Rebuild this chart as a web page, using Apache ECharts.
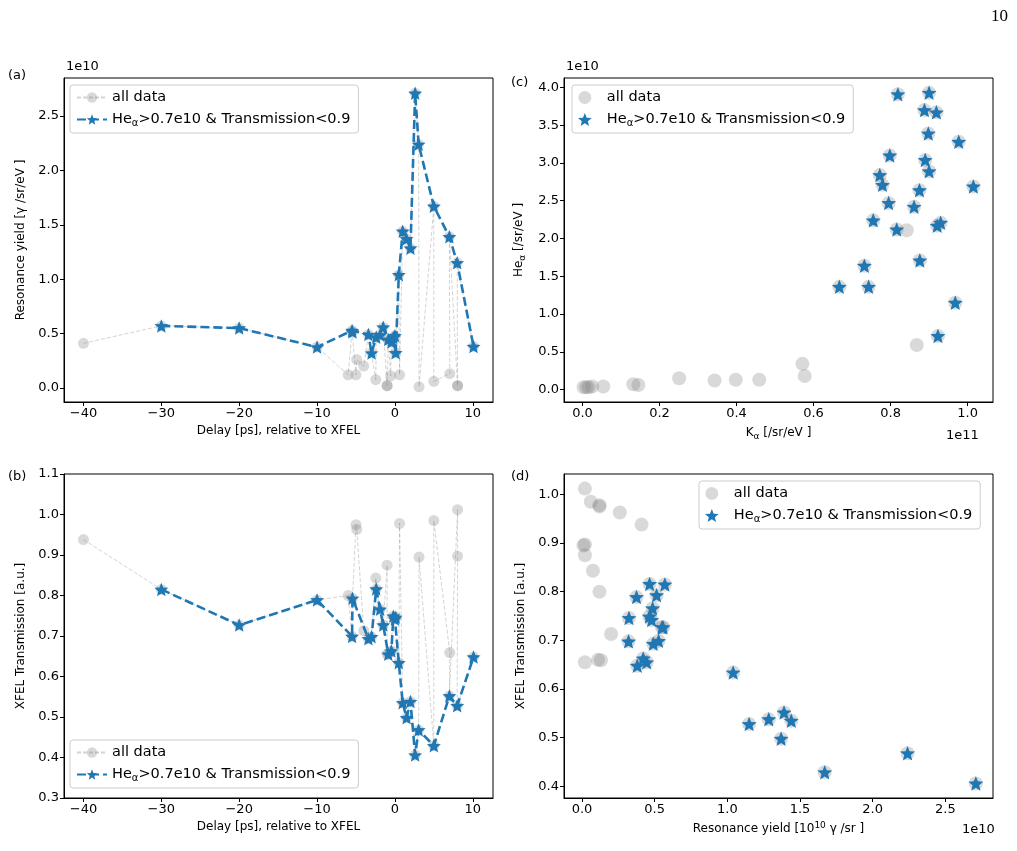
<!DOCTYPE html>
<html><head><meta charset="utf-8">
<script src="https://cdn.jsdelivr.net/npm/echarts@6/dist/echarts.min.js"></script>
<style>html,body{margin:0;padding:0;background:#fff}#c{width:1017px;height:851px}</style>
</head><body><div id="c"></div>
<script>
// ---- data: one entry per shot, in acquisition (delay) order ----
const delay = [-40,-30,-20,-10,-6.0,-5.5,-5.45,-5.0,-4.9,-4.0,-3.4,-3.0,-2.45,-2.4,-1.9,-1.5,-1.0,-1.0,-0.85,-0.55,-0.45,-0.2,0.0,0.1,0.5,0.6,1.0,1.5,2.0,2.6,3.05,3.1,5.0,5.0,7.05,7.0,8.05,8.05,8.0,10.1];
const resYield = [0.41,0.57,0.55,0.375,0.12,0.527,0.513,0.12,0.26,0.20,0.49,0.32,0.075,0.465,0.486,0.558,0.02,0.02,0.445,0.11,0.421,0.463,0.479,0.323,1.04,0.12,1.44,1.37,1.285,2.71,2.24,0.01,1.67,0.06,0.13,1.39,0.02,0.02,1.15,0.38];
const transmission = [0.938,0.815,0.727,0.789,0.80,0.699,0.793,0.975,0.963,0.713,0.693,0.698,0.843,0.816,0.766,0.727,0.875,0.655,0.655,0.66,0.663,0.749,0.742,0.746,0.634,0.978,0.535,0.498,0.538,0.406,0.468,0.895,0.429,0.985,0.659,0.552,1.012,0.897,0.528,0.648];
const selected = [0,1,1,1,0,1,1,0,0,0,1,1,0,1,1,1,0,0,1,0,1,1,1,1,1,0,1,1,1,1,1,0,1,0,0,1,0,0,1,1];
// panel (c): K_alpha (1e11) vs He_alpha (1e10)
const kaSel = [0.819,0.900,0.888,0.919,0.898,0.977,0.798,0.890,0.900,0.772,0.779,0.875,1.015,0.795,0.861,0.755,0.816,0.921,0.930,0.732,0.876,0.667,0.743,0.968,0.923];
const heSel = [3.91,3.93,3.70,3.67,3.39,3.28,3.10,3.04,2.89,2.84,2.71,2.64,2.69,2.47,2.42,2.24,2.12,2.17,2.21,1.64,1.71,1.36,1.36,1.15,0.71];
const kaOther = [0.842,0.868,0.003,0.010,0.016,0.025,0.054,0.132,0.145,0.251,0.343,0.398,0.459,0.571,0.577];
const heOther = [2.11,0.59,0.03,0.03,0.03,0.04,0.04,0.07,0.06,0.15,0.12,0.13,0.13,0.34,0.18];
// tick labels
const delayTicks = [-40,-30,-20,-10,0,10];
const yieldTicksA = [0,0.5,1,1.5,2,2.5];
const transTicksB = [0.3,0.4,0.5,0.6,0.7,0.8,0.9,1.0,1.1];
const kaTicks = [0,0.2,0.4,0.6,0.8,1.0];
const heTicks = [0,0.5,1,1.5,2,2.5,3,3.5,4];
const yieldTicksD = [0,0.5,1,1.5,2,2.5];
const transTicksD = [0.4,0.5,0.6,0.7,0.8,0.9,1.0];

// ---- styling ----
const FONT = 'DejaVu Sans';
const BLUE = '#1f77b4';
const GRAY = 'rgba(128,128,128,0.3)';
function starPath(){
  let p = '';
  for (let i=0;i<10;i++){
    const a = -Math.PI/2 + i*Math.PI/5;
    const r = i%2===0 ? 100 : 44;
    p += (i===0?'M':'L') + (r*Math.cos(a)).toFixed(2) + ' ' + (r*Math.sin(a)).toFixed(2) + ' ';
  }
  return 'path://' + p + 'Z';
}
const STAR = starPath();
const minus = v => (v<0?'\u2212':'') + Math.abs(v);
const f1 = v => (v<0?'\u2212':'') + Math.abs(v).toFixed(1);
function subRich(sz){
  return {
    s:{fontSize:Math.round(sz*0.7), fontFamily:FONT, color:'#000', verticalAlign:'bottom', padding:[7,0,0,0]},
    u:{fontSize:Math.round(sz*0.7), fontFamily:FONT, color:'#000', verticalAlign:'top', padding:[0,0,7,0]}
  };
}
function axis(gi, min, max, ticks, fmt, name, gap){
  return {
    type:'value', gridIndex:gi, min, max, name, nameLocation:'middle', nameGap:gap,
    nameTextStyle:{fontSize:12, fontFamily:FONT, color:'#000', rich:subRich(12.5)},
    axisLine:{show:true, onZero:false, lineStyle:{color:'#000', width:1}},
    axisTick:{show:true, length:4, customValues:ticks, lineStyle:{color:'#000'}},
    axisLabel:{show:true, customValues:ticks, formatter:fmt, color:'#000', fontSize:13, fontFamily:FONT, margin:5},
    splitLine:{show:false}
  };
}
const grids = [
  {left:64, top:78, width:429, height:324},
  {left:64, top:474, width:429, height:324},
  {left:564, top:78, width:429, height:324},
  {left:564, top:474, width:429, height:324}
].map(g => Object.assign(g, {show:true, borderColor:'#000', borderWidth:1, backgroundColor:'transparent'}));

const xAxis = [
  axis(0, -42.5, 12.6, delayTicks, minus, 'Delay [ps], relative to XFEL', 23),
  axis(1, -42.5, 12.6, delayTicks, minus, 'Delay [ps], relative to XFEL', 23),
  axis(2, -0.048, 1.066, kaTicks, f1, 'K{s|α} [/sr/eV ]', 23),
  axis(3, -0.124, 2.828, yieldTicksD, f1, 'Resonance yield [10{u|10} \u03b3 /sr ]', 23)
];
const yAxis = [
  axis(0, -0.13, 2.85, yieldTicksA, f1, 'Resonance yield [\u03b3 /sr/eV ]', 37),
  axis(1, 0.3, 1.1, transTicksB, f1, 'XFEL Transmission [a.u.]', 37),
  axis(2, -0.165, 4.125, heTicks, f1, 'He{s|α} [/sr/eV ]', 37),
  axis(3, 0.376, 1.042, transTicksD, f1, 'XFEL Transmission [a.u.]', 37)
];

const allAB = (yArr) => delay.map((d,i)=>[d, yArr[i]]);
const selAB = (yArr) => delay.map((d,i)=>[d, yArr[i]]).filter((_,i)=>selected[i]);
function grayLine(name, gi, data){
  return {name, type:'line', xAxisIndex:gi, yAxisIndex:gi, data, symbol:'circle', symbolSize:11,
    showSymbol:true, showAllSymbol:true, silent:true, z:2,
    itemStyle:{color:GRAY, borderWidth:0, opacity:1}, lineStyle:{color:'rgba(128,128,128,0.35)', width:1, type:[4,2]}};
}
function blueLine(name, gi, data){
  return {name, type:'line', xAxisIndex:gi, yAxisIndex:gi, data, symbol:STAR, symbolSize:[14,13.5],
    showSymbol:true, showAllSymbol:true, silent:true, z:3,
    itemStyle:{color:BLUE, borderWidth:0, opacity:1}, lineStyle:{color:BLUE, width:2.6, type:[9,4]}};
}
const series = [
  grayLine('a_all', 0, allAB(resYield)),
  blueLine('a_sel', 0, selAB(resYield)),
  grayLine('b_all', 1, allAB(transmission)),
  blueLine('b_sel', 1, selAB(transmission)),
  {name:'c_all', type:'scatter', xAxisIndex:2, yAxisIndex:2, symbol:'circle', symbolSize:14, silent:true, z:2,
    data: kaOther.map((k,i)=>[k,heOther[i]]).concat(kaSel.map((k,i)=>[k,heSel[i]])), itemStyle:{color:GRAY, opacity:1}},
  {name:'c_sel', type:'scatter', xAxisIndex:2, yAxisIndex:2, symbol:STAR, symbolSize:[15,14.5], silent:true, z:3,
    data: kaSel.map((k,i)=>[k,heSel[i]]), itemStyle:{color:BLUE, opacity:1}},
  {name:'d_all', type:'scatter', xAxisIndex:3, yAxisIndex:3, symbol:'circle', symbolSize:14, silent:true, z:2,
    data: resYield.map((r,i)=>[r, transmission[i]]), itemStyle:{color:GRAY, opacity:1}},
  {name:'d_sel', type:'scatter', xAxisIndex:3, yAxisIndex:3, symbol:STAR, symbolSize:[15,14.5], silent:true, z:3,
    data: resYield.map((r,i)=>[r, transmission[i]]).filter((_,i)=>selected[i]), itemStyle:{color:BLUE, opacity:1}}
];
const legendText = n => n.endsWith('all') ? 'all data' : 'He{s|α}>0.7e10 & Transmission<0.9';
function legend(names, left, top, iw){
  return {data:names, left, top, orient:'vertical', itemWidth:iw, itemHeight:13, itemGap:7,
    padding:[5,8,5,6], borderColor:'#cccccc', borderWidth:1, borderRadius:3,
    backgroundColor:'rgba(255,255,255,0.8)', selectedMode:false, formatter:legendText,
    textStyle:{fontSize:14.5, fontFamily:FONT, color:'#000', rich:subRich(14)}};
}
const legends = [
  legend(['a_all','a_sel'], 70, 85, 30),
  legend(['b_all','b_sel'], 70, 740, 30),
  legend(['c_all','c_sel'], 572, 85, 34),
  legend(['d_all','d_sel'], 699, 481, 34)
];
const txt = (left, top, text, size, fam) => ({type:'text', left, top, style:{text, fontSize:size||13, fontFamily:fam||FONT, fill:'#000'}});
const graphic = [
  txt(8, 69, '(a)'), txt(8, 470, '(b)'), txt(511, 76, '(c)'), txt(511, 470, '(d)'),
  txt(66, 60, '1e10'), txt(566, 60, '1e10'), txt(946, 429, '1e11'), txt(962, 823, '1e10'),
  txt(991, 8, '10', 17, 'Liberation Serif')
];
const chart = echarts.init(document.getElementById('c'), null, {renderer:'canvas'});
chart.setOption({animation:false, backgroundColor:'#fff', grid:grids, xAxis, yAxis, series, legend:legends, graphic});
</script></body></html>
